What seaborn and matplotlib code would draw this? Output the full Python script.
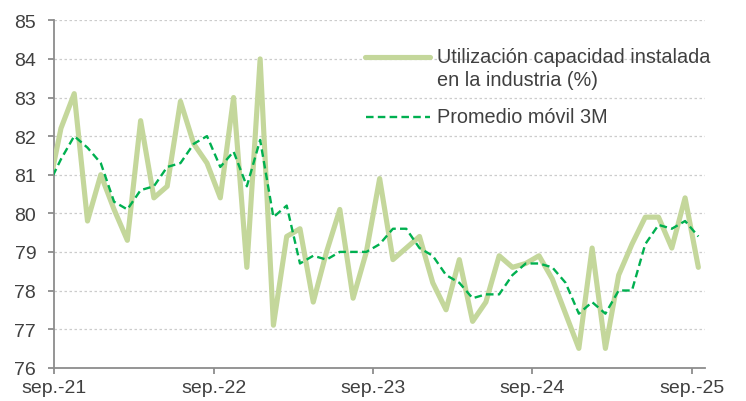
import numpy as np
import pandas as pd
import matplotlib
matplotlib.use("Agg")
import matplotlib.pyplot as plt
from matplotlib.lines import Line2D
import seaborn as sns

# ---- data (monthly, Aug-21 .. Sep-25) ----
months = pd.date_range("2021-08-01", "2025-09-01", freq="MS").strftime("%b-%y").tolist()
utilizacion = [80.5, 82.2, 83.1, 79.8, 81.0, 80.1, 79.3, 82.4, 80.4, 80.7,
               82.9, 81.8, 81.3, 80.4, 83.0, 78.6, 84.0, 77.1, 79.4, 79.6,
               77.7, 79.0, 80.1, 77.8, 79.0, 80.9, 78.8, 79.1, 79.4, 78.2,
               77.5, 78.8, 77.2, 77.7, 78.9, 78.6, 78.7, 78.9, 78.3, 77.4,
               76.5, 79.1, 76.5, 78.4, 79.2, 79.9, 79.9, 79.1, 80.4, 78.6]
promedio_3m = [80.7, 81.4, 82.0, 81.7, 81.3, 80.3, 80.1, 80.6, 80.7, 81.2,
               81.3, 81.8, 82.0, 81.2, 81.6, 80.7, 81.9, 79.9, 80.2, 78.7,
               78.9, 78.8, 79.0, 79.0, 79.0, 79.2, 79.6, 79.6, 79.1, 78.9,
               78.4, 78.2, 77.8, 77.9, 77.9, 78.4, 78.7, 78.7, 78.6, 78.2,
               77.4, 77.7, 77.4, 78.0, 78.0, 79.2, 79.7, 79.6, 79.8, 79.4]
tick_labels = ["sep.-21", "sep.-22", "sep.-23", "sep.-24", "sep.-25"]
y_ticks = list(range(76, 86))

label_raw_1 = "Utilización capacidad instalada"
label_raw_2 = "en la industria (%)"
label_ma = "Promedio móvil 3M"

# month index, plotted at mid-month (tick = start of month)
pos = np.arange(len(months)) - 1 + 0.5
df = pd.DataFrame({"pos": pos, "raw": utilizacion, "ma": promedio_3m})

sns.set_theme(style="white")
plt.rcParams["font.family"] = ["Liberation Sans", "DejaVu Sans"]

W, H = 746, 402
fig = plt.figure(figsize=(W / 100, H / 100), dpi=100)
ax = fig.add_axes([54.3 / W, 1 - 368.7 / H, (705 - 54.3) / W, (368.7 - 21.3) / H])

c_raw = "#C4D79B"
c_ma = "#00B050"
txt = "#404040"
axc = "#8C8C8C"

sns.lineplot(data=df, x="pos", y="raw", ax=ax, color=c_raw, lw=3.7,
             solid_capstyle="round", solid_joinstyle="round", zorder=3)
sns.lineplot(data=df, x="pos", y="ma", ax=ax, color=c_ma, lw=1.7, zorder=4)
ax.lines[-1].set_linestyle((0, (3.2, 1.8)))

ax.set_xlim(0, 49)
ax.set_ylim(76, 85)
ax.set_xticks([0, 12, 24, 36, 48])
ax.set_xticklabels(tick_labels)
ax.set_yticks(y_ticks)
ax.set_xlabel("")
ax.set_ylabel("")

for y in y_ticks[1:]:
    ax.axhline(y, color="#CCCCCC", lw=0.9, ls=(0, (2, 2)), zorder=1)

for s in ["top", "right"]:
    ax.spines[s].set_visible(False)
for s in ["left", "bottom"]:
    ax.spines[s].set_color(axc)
    ax.spines[s].set_linewidth(1.3)

ax.tick_params(axis="both", which="major", length=4, width=1.3, color=axc,
               labelsize=14, labelcolor=txt, direction="out")
ax.tick_params(axis="y", pad=9)
ax.tick_params(axis="x", pad=4)
ax.tick_params(left=True, bottom=True)

# legend (drawn manually to match the reference layout)
fig.add_artist(Line2D([365 / W, 430 / W], [1 - 58.3 / H] * 2, transform=fig.transFigure,
                      color=c_raw, lw=3.7, solid_capstyle="round"))
fig.add_artist(Line2D([366 / W, 430 / W], [1 - 118 / H] * 2, transform=fig.transFigure,
                      color=c_ma, lw=1.7, ls=(0, (3.2, 1.8))))
fig.text(437 / W, 1 - 57.5 / H, label_raw_1, fontsize=14.3,
         color=txt, va="center", ha="left")
fig.text(437 / W, 1 - 80.5 / H, label_raw_2, fontsize=14.3,
         color=txt, va="center", ha="left")
fig.text(437 / W, 1 - 117.5 / H, label_ma, fontsize=14.3,
         color=txt, va="center", ha="left")

fig.savefig("out.png", dpi=100)
